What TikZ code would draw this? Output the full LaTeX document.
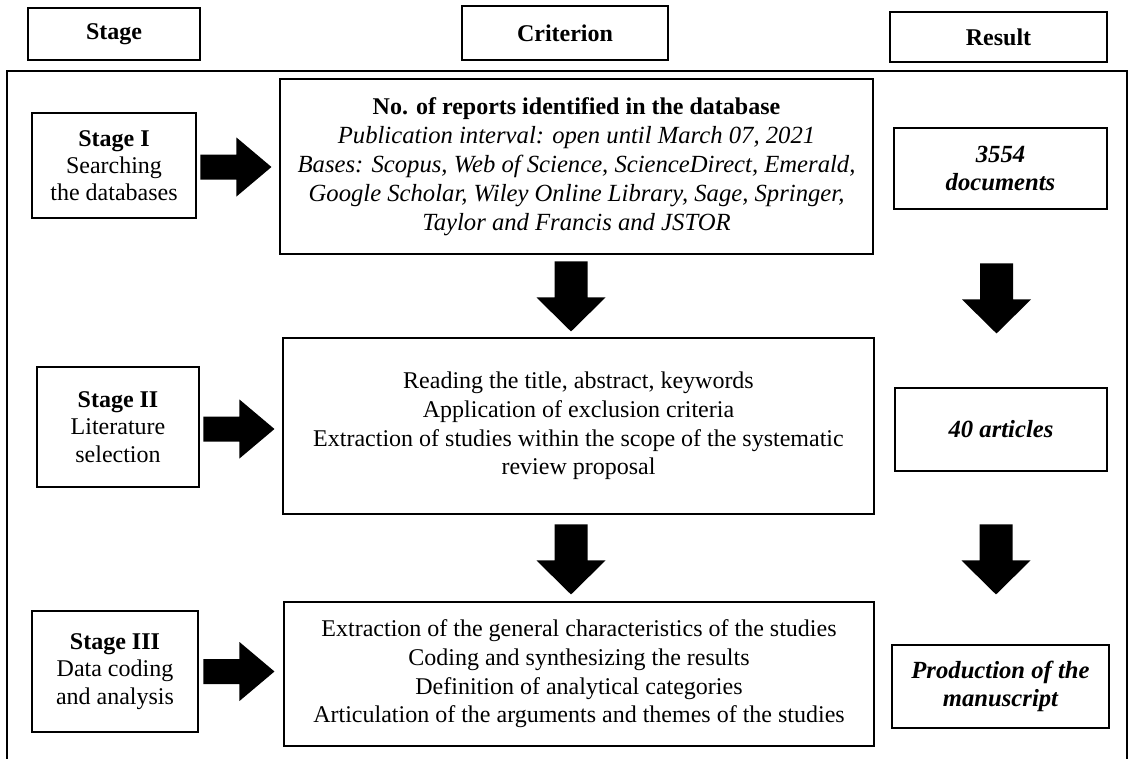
\documentclass[tikz,border=0pt]{standalone}
\usepackage{fontspec}
\setmainfont{Liberation Serif}
\usetikzlibrary{calc}

\def\px{0.75pt} % one pixel of the reference
% block arrows, started at a named coordinate
\newcommand{\rarrow}[1]{\fill ($(#1)+(0,-12.5)$) -- ++(36,0) -- ++(0,-17) -- ++(35,29.5) -- ++(-35,29.5) -- ++(0,-17) -- ++(-36,0) -- cycle;}
\newcommand{\darrow}[1]{\fill ($(#1)+(-16.5,0)$) -- ++(0,36) -- ++(-18,0) -- ++(34.5,34) -- ++(34.5,-34) -- ++(-18,0) -- ++(0,-36) -- cycle;}

\begin{document}
\begin{tikzpicture}[x=0.75pt, y=-0.75pt, line join=miter,
    box/.style={draw, line width=2.2pt, align=center, inner sep=0pt, font=\fontsize{18}{20.5}\selectfont},
    head/.style={box, font=\fontsize{18}{21}\selectfont\bfseries},
    res/.style={box, font=\fontsize{18.5}{21}\selectfont\bfseries\itshape}]
    \useasboundingbox (0,0) rectangle (1129,758);
    % column heads
    \node[head, minimum width=172*\px, minimum height=52*\px] (hs) at (114,34) {Stage};
    \node[head, minimum width=206*\px, minimum height=54*\px] (hc) at (565,33) {Criterion};
    \node[head, minimum width=217*\px, minimum height=50*\px] (hr) at (998.5,37) {Result};
    \draw[line width=1.5pt] (7,760) -- (7,71) -- (1127,71) -- (1127,760);
    % stages
    \node[box, minimum width=164*\px, minimum height=105*\px] (s1) at (114,165.5) {\textbf{Stage I}\\Searching\\the databases};
    \node[box, minimum width=162*\px, minimum height=120*\px] (s2) at (118,427) {\textbf{Stage II}\\Literature\\selection};
    \node[box, minimum width=166*\px, minimum height=121*\px] (s3) at (115,671.5) {\textbf{Stage III}\\Data coding\\and analysis};
    % criteria
    \node[box, minimum width=593*\px, minimum height=175*\px, font=\fontsize{18.5}{21.8}\selectfont] (c1) at (576.5,166.5) {{\fontsize{18}{21.8}\selectfont\bfseries No. of reports identified in the database}\\\itshape Publication interval: open until March 07, 2021\\\itshape Bases: Scopus, Web of Science, ScienceDirect, Emerald,\\\itshape Google Scholar, Wiley Online Library, Sage, Springer,\\\itshape Taylor and Francis and JSTOR};
    \node[box, minimum width=591*\px, minimum height=176*\px, font=\fontsize{18}{21.5}\selectfont] (c2) at (578.5,426) {Reading the title, abstract, keywords\\Application of exclusion criteria\\Extraction of studies within the scope of the systematic\\review proposal};
    \node[box, minimum width=590*\px, minimum height=144*\px, font=\fontsize{18}{21.5}\selectfont] (c3) at (579,674) {Extraction of the general characteristics of the studies\\Coding and synthesizing the results\\Definition of analytical categories\\Articulation of the arguments and themes of the studies};
    % results
    \node[res, minimum width=213*\px, minimum height=81*\px] (r1) at (1000.5,168.5) {3554\\documents};
    \node[res, minimum width=212*\px, minimum height=83*\px] (r2) at (1001,429.5) {40 articles};
    \node[res, minimum width=217*\px, minimum height=83*\px] (r3) at (1000.5,686.5) {Production of the\\manuscript};
    % arrows
    \coordinate (a1) at ($(s1.east)+(3,1.5)$);
    \coordinate (a2) at ($(s2.east)+(3,2)$);
    \coordinate (a3) at ($(s3.east)+(4,0)$);
    \coordinate (d1) at ($(c1.south)+(-5.5,6)$);
    \coordinate (d2) at ($(c2.south)+(-7.5,9)$);
    \coordinate (e1) at ($(d1 -| r1.south)+(-4,2)$);
    \coordinate (e2) at ($(d2 -| r2.south)+(-5,0)$);
    \rarrow{a1} \rarrow{a2} \rarrow{a3}
    \darrow{d1} \darrow{d2} \darrow{e1} \darrow{e2}
\end{tikzpicture}
\end{document}
